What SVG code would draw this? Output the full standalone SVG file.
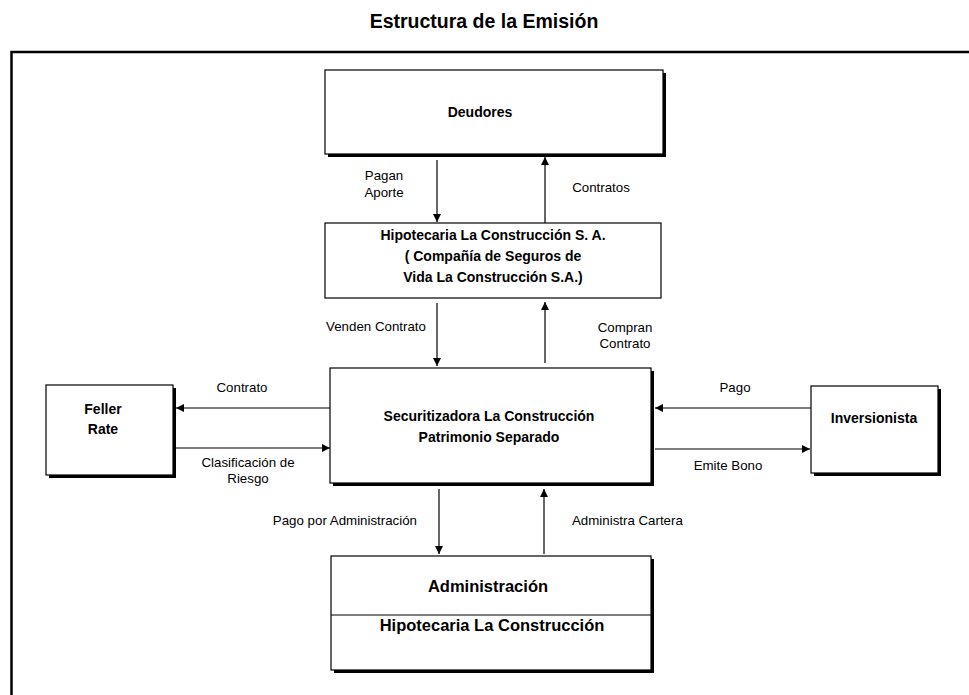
<svg xmlns="http://www.w3.org/2000/svg" width="969" height="695" viewBox="0 0 969 695">
<style>
.box{fill:#fff;stroke:#000;stroke-width:1.2}
.shadow{fill:#000}
.nt{font-family:"Liberation Sans",Arial,sans-serif;font-weight:bold;font-size:14px;text-anchor:middle;fill:#000}
.nt2{font-family:"Liberation Sans",Arial,sans-serif;font-weight:bold;font-size:16.5px;text-anchor:middle;fill:#000}
.lb{font-family:"Liberation Sans",Arial,sans-serif;font-size:13.3px;fill:#000}
.ln{stroke:#000;stroke-width:1.2;fill:none}
</style>
<defs>
<marker id="ah" viewBox="0 0 10 10" refX="10" refY="5" markerWidth="8" markerHeight="8" markerUnits="userSpaceOnUse" orient="auto">
<path d="M0,0 L10,5 L0,10 z" fill="#000"/>
</marker>
</defs>
<rect width="969" height="695" fill="#fff"/>
<text x="484" y="28" font-family="Liberation Sans,Arial,sans-serif" font-weight="bold" font-size="19.5" text-anchor="middle">Estructura de la Emisión</text>
<path d="M11.5,695 V52 H969" fill="none" stroke="#000" stroke-width="2.5"/>

<g id="deudores">
<rect class="shadow" x="328" y="73" width="338" height="84"/>
<rect class="box" x="325" y="70" width="338" height="84"/>
<text class="nt" x="480" y="117">Deudores</text>
</g>
<g id="hipotecaria">
<rect class="box" x="325" y="223" width="336" height="75"/>
<text class="nt" x="493" y="240">Hipotecaria La Construcción S. A.</text>
<text class="nt" x="493" y="261">( Compañía de Seguros de</text>
<text class="nt" x="493" y="282">Vida La Construcción S.A.)</text>
</g>
<g id="securitizadora">
<rect class="shadow" x="333" y="371" width="321" height="115"/>
<rect class="box" x="330" y="368" width="321" height="115"/>
<text class="nt" x="489" y="421">Securitizadora La Construcción</text>
<text class="nt" x="489" y="442">Patrimonio Separado</text>
</g>
<g id="feller">
<rect class="shadow" x="49" y="388" width="127" height="90"/>
<rect class="box" x="46" y="385" width="127" height="90"/>
<text class="nt" x="103" y="414">Feller</text>
<text class="nt" x="103" y="434">Rate</text>
</g>
<g id="inversionista">
<rect class="shadow" x="814" y="389" width="127" height="87"/>
<rect class="box" x="811" y="386" width="127" height="87"/>
<text class="nt" x="874" y="423">Inversionista</text>
</g>
<g id="administracion">
<rect class="shadow" x="334" y="559" width="320" height="114"/>
<rect class="box" x="331" y="556" width="320" height="114"/>
<line class="ln" x1="331" y1="615" x2="651" y2="615"/>
<text class="nt2" x="488" y="592">Administración</text>
<text class="nt2" x="492" y="631">Hipotecaria La Construcción</text>
</g>

<g id="connectors">
<line class="ln" x1="437" y1="160" x2="437" y2="222" marker-end="url(#ah)"/>
<line class="ln" x1="545" y1="223" x2="545" y2="157" marker-end="url(#ah)"/>
<line class="ln" x1="437" y1="303" x2="437" y2="366" marker-end="url(#ah)"/>
<line class="ln" x1="545" y1="363" x2="545" y2="302" marker-end="url(#ah)"/>
<line class="ln" x1="330" y1="408" x2="176" y2="408" marker-end="url(#ah)"/>
<line class="ln" x1="176" y1="448" x2="330" y2="448" marker-end="url(#ah)"/>
<line class="ln" x1="811" y1="408" x2="655" y2="408" marker-end="url(#ah)"/>
<line class="ln" x1="655" y1="449" x2="810" y2="449" marker-end="url(#ah)"/>
<line class="ln" x1="439" y1="489" x2="439" y2="554" marker-end="url(#ah)"/>
<line class="ln" x1="544" y1="554" x2="544" y2="489" marker-end="url(#ah)"/>
</g>
<g id="labels">
<text class="lb" x="384" y="180" text-anchor="middle">Pagan</text>
<text class="lb" x="384" y="197" text-anchor="middle">Aporte</text>
<text class="lb" x="601" y="192" text-anchor="middle">Contratos</text>
<text class="lb" x="376" y="331" text-anchor="middle">Venden Contrato</text>
<text class="lb" x="625" y="332" text-anchor="middle">Compran</text>
<text class="lb" x="625" y="348" text-anchor="middle">Contrato</text>
<text class="lb" x="242" y="392" text-anchor="middle">Contrato</text>
<text class="lb" x="248" y="467" text-anchor="middle">Clasificación de</text>
<text class="lb" x="248" y="483" text-anchor="middle">Riesgo</text>
<text class="lb" x="735" y="392" text-anchor="middle">Pago</text>
<text class="lb" x="728" y="470" text-anchor="middle">Emite Bono</text>
<text class="lb" x="417" y="525" text-anchor="end">Pago por Administración</text>
<text class="lb" x="572" y="525">Administra Cartera</text>
</g>
</svg>
